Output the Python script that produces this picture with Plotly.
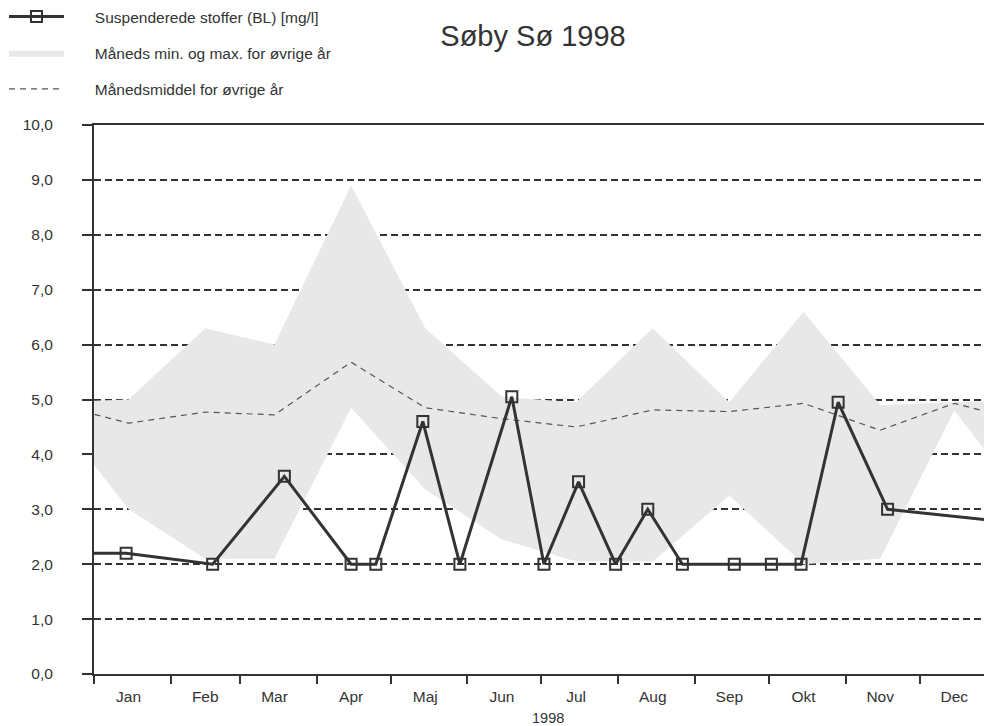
import plotly.graph_objects as go

# ---- data ----
month_mid = ["1998-01-15", "1998-02-15", "1998-03-15", "1998-04-15", "1998-05-15", "1998-06-15",
             "1998-07-15", "1998-08-15", "1998-09-15", "1998-10-15", "1998-11-15", "1998-12-15"]
month_labels = ["Jan", "Feb", "Mar", "Apr", "Maj", "Jun", "Jul", "Aug", "Sep", "Okt", "Nov", "Dec"]

band_max = [5.0, 6.3, 6.0, 8.9, 6.3, 5.05, 4.95, 6.3, 4.95, 6.6, 4.9, 4.95]
band_min = [3.0, 2.1, 2.1, 4.85, 3.36, 2.45, 2.05, 2.05, 3.25, 2.0, 2.1, 4.8]
band_mean = [4.57, 4.77, 4.72, 5.68, 4.85, 4.65, 4.5, 4.81, 4.78, 4.93, 4.44, 4.93]

sample_dates = ["1997-12-10", "1998-01-14", "1998-02-18", "1998-03-19", "1998-04-15", "1998-04-25",
                "1998-05-14", "1998-05-29", "1998-06-19", "1998-07-02", "1998-07-16", "1998-07-31",
                "1998-08-13", "1998-08-27", "1998-09-17", "1998-10-02", "1998-10-14", "1998-10-29",
                "1998-11-18", "1998-12-30"]
sample_values = [2.2, 2.2, 2.0, 3.6, 2.0, 2.0,
                 4.6, 2.0, 5.05, 2.0, 3.5, 2.0,
                 3.0, 2.0, 2.0, 2.0, 2.0, 4.95,
                 3.0, 2.8]

# monthly statistics repeat: Dec 1997 before and Jan 1999 after the year
band_dates = ["1997-12-15"] + month_mid + ["1999-01-15"]


def wrap(vals):
    return [vals[-1]] + list(vals) + [vals[0]]


INK = "#333333"
FONT = "Liberation Sans, Arial, sans-serif"
PAD = "\u00a0" * 6

fig = go.Figure()
fig.add_trace(go.Scatter(x=band_dates, y=wrap(band_min), mode="lines", line=dict(width=0),
                         showlegend=False, hoverinfo="skip"))
fig.add_trace(go.Scatter(x=band_dates, y=wrap(band_max), mode="lines", line=dict(width=0),
                         fill="tonexty", fillcolor="#e8e8e8",
                         name=PAD + "Måneds min. og max. for øvrige år", legendrank=2, legendgroup="b"))
fig.add_trace(go.Scatter(x=band_dates, y=wrap(band_mean), mode="lines",
                         line=dict(color="#555555", width=1.2, dash="6px,5px"),
                         name=PAD + "Månedsmiddel for øvrige år", legendrank=3, legendgroup="c"))
fig.add_trace(go.Scatter(x=sample_dates, y=sample_values, mode="lines+markers",
                         line=dict(color=INK, width=3),
                         marker=dict(symbol="square-open", size=11, color=INK, line=dict(width=2)),
                         name=PAD + "Suspenderede stoffer (BL) [mg/l]", legendrank=1, legendgroup="a"))

fig.update_layout(
    width=984, height=726,
    margin=dict(l=94, r=0, t=125, b=52, pad=0, autoexpand=False),
    paper_bgcolor="white", plot_bgcolor="white",
    separators=", ",
    font=dict(family=FONT, color=INK, size=14),
    title=dict(text="Søby Sø 1998", font=dict(size=29, color=INK, family=FONT),
               x=533 / 984, xanchor="center", y=1 - 36 / 726, yanchor="middle",
               xref="container", yref="container"),
    legend=dict(xref="container", yref="container", x=4 / 984, y=1, xanchor="left", yanchor="top",
                font=dict(size=15.5, color=INK), itemwidth=55, bgcolor="rgba(0,0,0,0)",
                traceorder="grouped", tracegroupgap=13),
    xaxis=dict(type="date", range=["1998-01-01", "1998-12-27"],
               tickmode="array", tickvals=month_mid, ticktext=month_labels, ticks="",
               ticklabelstandoff=7, tickfont=dict(size=15.5),
               showline=True, linecolor=INK, linewidth=2, mirror=True,
               showgrid=False, zeroline=False,
               minor=dict(ticks="outside", ticklen=8, tickwidth=2, tickcolor=INK,
                          dtick="M1", tick0="1998-01-01", showgrid=False)),
    yaxis=dict(range=[0, 10], tick0=0, dtick=1, tickformat=".1f",
               ticks="outside", ticklen=10, tickwidth=2, tickcolor=INK,
               ticklabelstandoff=26, tickfont=dict(size=15.5),
               showline=True, linecolor=INK, linewidth=2,
               showgrid=True, gridcolor=INK, gridwidth=1.5, griddash="7px,4px",
               zeroline=False),
    annotations=[dict(text="1998", xref="paper", yref="paper", x=(548 - 94) / 890, y=-(718 - 674) / 549,
                      xanchor="center", yanchor="middle", showarrow=False, font=dict(size=14.5, color=INK))],
)

fig.write_html("out.html", config={"displayModeBar": False},
               post_script="document.body.style.margin='0';")
